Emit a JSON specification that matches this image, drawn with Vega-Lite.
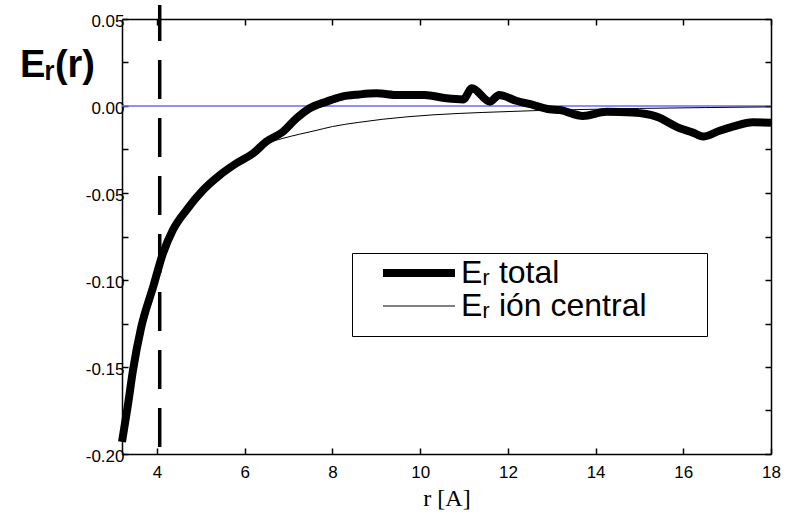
{
  "$schema": "https://vega.github.io/schema/vega-lite/v6.json",
  "width": 649,
  "height": 435,
  "autosize": {"type": "none"},
  "padding": {"left": 122, "top": 19, "right": 19, "bottom": 69},
  "background": "white",
  "config": {
    "view": {"stroke": null},
    "axis": {"grid": false, "domainColor": "black", "domainWidth": 1.5, "tickColor": "black", "tickWidth": 1.5, "labelColor": "black", "labelFont": "Liberation Sans", "labelFontSize": 17, "labelOverlap": false, "labelFlush": false}
  },
  "datasets": {
    "curves": [
      {"series": "total", "r": 3.2, "E": -0.193},
      {"series": "total", "r": 3.34, "E": -0.171},
      {"series": "total", "r": 3.45, "E": -0.152},
      {"series": "total", "r": 3.64, "E": -0.127},
      {"series": "total", "r": 3.91, "E": -0.104},
      {"series": "total", "r": 4.13, "E": -0.085},
      {"series": "total", "r": 4.36, "E": -0.0713},
      {"series": "total", "r": 4.67, "E": -0.0598},
      {"series": "total", "r": 5.05, "E": -0.0483},
      {"series": "total", "r": 5.43, "E": -0.0397},
      {"series": "total", "r": 5.81, "E": -0.0329},
      {"series": "total", "r": 6.19, "E": -0.0272},
      {"series": "total", "r": 6.49, "E": -0.0205},
      {"series": "total", "r": 6.87, "E": -0.0148},
      {"series": "total", "r": 7.18, "E": -0.0071},
      {"series": "total", "r": 7.48, "E": -0.0013},
      {"series": "total", "r": 7.86, "E": 0.0025},
      {"series": "total", "r": 8.2, "E": 0.0053},
      {"series": "total", "r": 8.6, "E": 0.0066},
      {"series": "total", "r": 9.0, "E": 0.0073},
      {"series": "total", "r": 9.5, "E": 0.0063},
      {"series": "total", "r": 10.1, "E": 0.0063},
      {"series": "total", "r": 10.6, "E": 0.0044},
      {"series": "total", "r": 10.98, "E": 0.0038},
      {"series": "total", "r": 11.18, "E": 0.0102},
      {"series": "total", "r": 11.59, "E": 0.0025},
      {"series": "total", "r": 11.8, "E": 0.0063},
      {"series": "total", "r": 12.19, "E": 0.003},
      {"series": "total", "r": 12.57, "E": 0.0006},
      {"series": "total", "r": 12.95, "E": -0.0019},
      {"series": "total", "r": 13.18, "E": -0.0023},
      {"series": "total", "r": 13.71, "E": -0.0057},
      {"series": "total", "r": 14.25, "E": -0.0033},
      {"series": "total", "r": 14.85, "E": -0.0038},
      {"series": "total", "r": 15.39, "E": -0.0061},
      {"series": "total", "r": 15.92, "E": -0.0128},
      {"series": "total", "r": 16.22, "E": -0.0153},
      {"series": "total", "r": 16.45, "E": -0.0176},
      {"series": "total", "r": 16.83, "E": -0.0142},
      {"series": "total", "r": 17.13, "E": -0.0119},
      {"series": "total", "r": 17.59, "E": -0.0094},
      {"series": "total", "r": 18.0, "E": -0.0096},
      {"series": "central", "r": 3.2, "E": -0.193},
      {"series": "central", "r": 3.34, "E": -0.171},
      {"series": "central", "r": 3.45, "E": -0.152},
      {"series": "central", "r": 3.64, "E": -0.127},
      {"series": "central", "r": 3.91, "E": -0.104},
      {"series": "central", "r": 4.13, "E": -0.085},
      {"series": "central", "r": 4.36, "E": -0.0713},
      {"series": "central", "r": 4.67, "E": -0.0598},
      {"series": "central", "r": 5.05, "E": -0.0483},
      {"series": "central", "r": 5.43, "E": -0.0397},
      {"series": "central", "r": 5.81, "E": -0.0329},
      {"series": "central", "r": 6.19, "E": -0.0272},
      {"series": "central", "r": 6.49, "E": -0.0218},
      {"series": "central", "r": 6.87, "E": -0.0186},
      {"series": "central", "r": 7.25, "E": -0.0162},
      {"series": "central", "r": 7.6, "E": -0.0142},
      {"series": "central", "r": 8.0, "E": -0.0118},
      {"series": "central", "r": 8.6, "E": -0.0094},
      {"series": "central", "r": 9.15, "E": -0.0076},
      {"series": "central", "r": 10.29, "E": -0.0051},
      {"series": "central", "r": 11.43, "E": -0.0037},
      {"series": "central", "r": 12.57, "E": -0.0027},
      {"series": "central", "r": 13.5, "E": -0.0021},
      {"series": "central", "r": 15.0, "E": -0.0014},
      {"series": "central", "r": 16.5, "E": -0.0009},
      {"series": "central", "r": 18.0, "E": -0.0005}
    ]
  },
  "layer": [
    {
      "data": {"values": [{}]},
      "mark": {"type": "rule", "color": "#6a6af2", "strokeWidth": 1.5},
      "encoding": {
        "x": {"datum": 3.2, "type": "quantitative", "scale": {"domain": [3.2, 18], "nice": false, "zero": false},
          "axis": {"orient": "top", "labels": false, "title": null, "values": [4, 6, 8, 10, 12, 14, 16, 18], "tickSize": -6}},
        "x2": {"datum": 18},
        "y": {"datum": 0, "type": "quantitative", "scale": {"domain": [-0.2, 0.05], "nice": false, "zero": false},
          "axis": {"orient": "right", "labels": false, "title": null, "values": [-0.2, -0.175, -0.15, -0.125, -0.1, -0.075, -0.05, -0.025, 0, 0.025, 0.05], "tickSize": -6}}
      }
    },
    {
      "data": {"name": "curves"},
      "mark": {"type": "line", "color": "black", "strokeJoin": "round", "strokeCap": "butt", "interpolate": "monotone"},
      "encoding": {
        "x": {"field": "r", "type": "quantitative",
          "axis": {"orient": "bottom", "values": [4, 6, 8, 10, 12, 14, 16, 18], "tickSize": -6, "labelPadding": 16,
            "title": "r [A]", "titleFont": "Liberation Serif", "titleFontSize": 24, "titleFontWeight": "normal", "titleColor": "black", "titleY": 44, "titleBaseline": "middle"}},
        "y": {"field": "E", "type": "quantitative",
          "axis": {"orient": "left", "values": [-0.2, -0.175, -0.15, -0.125, -0.1, -0.075, -0.05, -0.025, 0, 0.025, 0.05], "tickSize": -6, "labelPadding": 4, "labelOffset": 2,
            "labelExpr": "abs(datum.value*20 - round(datum.value*20)) < 0.001 ? replace(format(datum.value, '.2f'), '\u2212', '-') : ''",
            "title": "Eᵣ(r)", "titleAngle": 0, "titleX": -65, "titleY": 46, "titleAlign": "center", "titleBaseline": "middle",
            "titleFont": "Liberation Sans", "titleFontSize": 38, "titleFontWeight": "bold", "titleColor": "black"}},
        "strokeWidth": {"field": "series", "type": "nominal", "scale": {"domain": ["total", "central"], "range": [8, 1]},
          "legend": {"orient": "none", "legendX": 230, "legendY": 234,
            "title": "MMMMMMMMMMMMMMMMMMMMMMMMMMMMMMMMMMMMMMMMMMMMMMMMMMMM", "titleOrient": "bottom", "titleFontSize": 8, "titlePadding": 2, "titleColor": "rgba(0,0,0,0)", "titleLimit": 1000,
            "symbolType": "M-5,0H1", "symbolSize": 576, "symbolStrokeColor": "black", "symbolOffset": 71,
            "labelOffset": 2, "labelFont": "Liberation Sans", "labelFontSize": 32, "labelColor": "black", "labelLimit": 400,
            "labelExpr": "datum.label == 'total' ? 'Eᵣ total' : 'Eᵣ ión central'",
            "padding": 4, "rowPadding": 1, "strokeColor": "black", "fillColor": "white"}}
      }
    },
    {
      "data": {"values": [{}]},
      "mark": {"type": "rule", "color": "black", "strokeWidth": 3.5, "strokeDash": [39, 19], "clip": false},
      "encoding": {
        "x": {"datum": 4.06, "type": "quantitative", "axis": null},
        "y": {"datum": -0.196, "type": "quantitative", "axis": null},
        "y2": {"datum": 0.058}
      }
    }
  ],
  "resolve": {"axis": {"x": "independent", "y": "independent"}}
}
